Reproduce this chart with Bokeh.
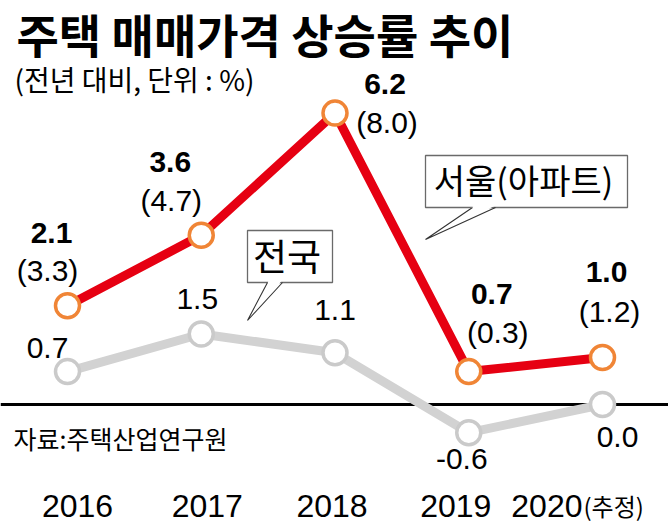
from bokeh.plotting import figure
from bokeh.models import Range1d, Span
from bokeh.core.properties import value
from bokeh.embed import file_html
from bokeh.resources import INLINE

# ---------------- data ----------------
years = ["2016", "2017", "2018", "2019", "2020"]
year_note = "(추정)"
seoul = [2.1, 3.6, 6.2, 0.7, 1.0]          # 서울 (bold labels)
seoul_apt = [3.3, 4.7, 8.0, 0.3, 1.2]      # 서울 아파트 (parenthesised)
national = [0.7, 1.5, 1.1, -0.6, 0.0]      # 전국

title_text = "주택 매매가격 상승률 추이"
subtitle_text = "(전년 대비, 단위 : %)"
source_text = "자료:주택산업연구원"
seoul_name = "서울(아파트)"
national_name = "전국"

# ---------------- layout / style ----------------
W, H = 668, 524
X0, DX = 67.0, 133.75      # pixel of first category, spacing
Y0, DY = 120.0, 47.0       # pixel (from bottom) of zero, pixels per %

KR = value("Noto Sans CJK KR")
NUM = value("Liberation Sans")
RED = "#e60012"
ORANGE = "#f08536"
GRAY = "#d2d2d2"
GRAY_MK = "#cacaca"

p = figure(width=W, height=H, output_backend="svg", toolbar_location=None,
           title=None, x_axis_location=None, y_axis_location=None,
           x_range=Range1d(-X0 / DX, (W - X0) / DX),
           y_range=Range1d(-Y0 / DY, (H - Y0) / DY),
           min_border=0, min_border_left=0, min_border_right=0,
           min_border_top=0, min_border_bottom=0)
p.grid.visible = False
p.outline_line_color = None
p.background_fill_color = "white"
p.border_fill_color = "white"


def px_x(X):
    return (X - X0) / DX


def px_y(Y):
    return ((H - Y) - Y0) / DY


idx = list(range(len(years)))

# zero baseline
base = Span(location=0, dimension="width", line_color="black", line_width=3)
base.level = "underlay"
p.add_layout(base)

# national (gray)
p.line(idx, national, line_color=GRAY, line_width=9)
p.scatter(idx, national, size=24, fill_color="white", line_color=GRAY_MK, line_width=3.5)

# seoul (red)
p.line(idx, seoul, line_color=RED, line_width=9)
p.scatter(idx, seoul, size=24, fill_color="white", line_color=ORANGE, line_width=3.5)

# value labels (offsets in px, screen-down positive)
seoul_off = [(-16, -73), (-31, -73), (50, -29), (23, -78), (4, -86)]
apt_off = [(-20, -35), (-30, -35), (52, 9), (29, -39), (7, -46)]
nat_off = [(-20, -24), (-4, -35), (0, -43), (-7, 26), (15, 32)]

p.text(idx, seoul, text=[f"{v:.1f}" for v in seoul],
       x_offset=[o[0] for o in seoul_off], y_offset=[o[1] for o in seoul_off],
       text_font=NUM, text_font_style="bold", text_font_size="30px",
       text_align="center", text_baseline="middle", text_color="black")
p.text(idx, seoul, text=[f"({v:.1f})" for v in seoul_apt],
       x_offset=[o[0] for o in apt_off], y_offset=[o[1] for o in apt_off],
       text_font=NUM, text_font_size="30px",
       text_align="center", text_baseline="middle", text_color="black")
p.text(idx, national, text=[f"{v:.1f}" for v in national],
       x_offset=[o[0] for o in nat_off], y_offset=[o[1] for o in nat_off],
       text_font=NUM, text_font_size="30px",
       text_align="center", text_baseline="middle", text_color="black")

# year labels along bottom
year_dx = [10, 6, -3, -13, -20]
year_y = px_y(505)
p.text(idx[:-1], [year_y] * (len(years) - 1), text=years[:-1],
       x_offset=year_dx[:-1], text_font=NUM, text_font_size="32px",
       text_align="center", text_baseline="middle", text_color="black")
p.text([idx[-1]], [year_y], text=[years[-1]], x_offset=[year_dx[-1]],
       text_font=NUM, text_font_size="32px",
       text_align="right", text_baseline="middle", text_color="black")
p.text([idx[-1]], [year_y], text=[year_note], x_offset=[year_dx[-1] + 1], y_offset=[0],
       text_font=KR, text_font_size="24px",
       text_align="left", text_baseline="middle", text_color="black")

# title, subtitle, source
p.text([px_x(16)], [px_y(32)], text=[title_text], text_font=KR, text_font_style="bold",
       text_font_size="46px", text_align="left", text_baseline="middle", text_color="black")
p.text([px_x(14)], [px_y(78)], text=[subtitle_text], text_font=KR,
       text_font_size="28px", text_align="left", text_baseline="middle", text_color="black")
p.text([px_x(13)], [px_y(437)], text=[source_text], text_font=KR,
       text_font_size="25px", text_align="left", text_baseline="middle", text_color="black")


# callouts
def callout(x1, x2, y1, y2, a, b, tip, label, fs):
    p.quad(left=[px_x(x1)], right=[px_x(x2)], top=[px_y(y1)], bottom=[px_y(y2)],
           fill_color="white", line_color="#6a6a6a", line_width=1.3)
    p.patch([px_x(a + 1), px_x(b - 1), px_x(tip[0])],
            [px_y(y2 - 1.5), px_y(y2 - 1.5), px_y(tip[1])],
            fill_color="white", line_color=None)
    p.line([px_x(a), px_x(tip[0]), px_x(b)], [px_y(y2), px_y(tip[1]), px_y(y2)],
           line_color="#333333", line_width=1.1)
    p.text([px_x((x1 + x2) / 2 - 3)], [px_y((y1 + y2) / 2 - 2)], text=[label],
           text_font=KR, text_font_size=fs, text_align="center",
           text_baseline="middle", text_color="black")


callout(425, 627, 155, 207, 472, 495, (425, 239), seoul_name, "34px")
callout(247, 332, 230, 282, 267, 282, (247, 320), national_name, "37px")

open("out.html", "w").write(file_html(p, INLINE))
